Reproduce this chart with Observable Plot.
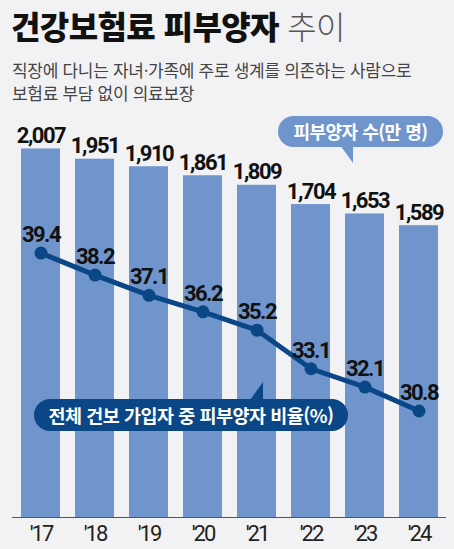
<!DOCTYPE html>
<html lang="ko">
<head>
<meta charset="utf-8">
<script src="https://cdn.jsdelivr.net/npm/d3@7"></script>
<script src="https://cdn.jsdelivr.net/npm/@observablehq/plot@0.6"></script>
<style>
  body { margin: 0; background: #f2f2f4; font-family: "Noto Sans CJK KR", "Noto Sans", sans-serif; }
  #wrap { position: relative; width: 454px; height: 549px; overflow: hidden; }
  #title { position: absolute; left: 11px; top: 4px; font-size: 32px; line-height: 42px; font-weight: 900; letter-spacing: -0.6px; color: #111; white-space: nowrap; }
  #title span { font-weight: 300; color: #555; }
  #sub { position: absolute; left: 12px; top: 58px; font-size: 17px; line-height: 23px; letter-spacing: -0.3px; color: #444; white-space: nowrap; }
  #chart { position: absolute; left: 0; top: 108px; }
  .pill { position: absolute; color: #fff; font-weight: 700; text-align: center; white-space: nowrap; letter-spacing: -0.5px; }
  .tail { position: absolute; }
  .num { letter-spacing: -1.5px; }
  .tick { letter-spacing: -2px; }
</style>
</head>
<body>
<div id="wrap">
  <div id="title">건강보험료 피부양자 <span>추이</span></div>
  <div id="sub">직장에 다니는 자녀·가족에 주로 생계를 의존하는 사람으로<br>보험료 부담 없이 의료보장</div>
  <div id="chart"></div>
  <div class="tail" style="left:340px;top:145px;width:13px;height:18px;background:#7095cd;clip-path:polygon(0 0,100% 0,100% 100%);"></div>
  <div class="pill" style="left:278px;top:116px;width:165px;height:31px;line-height:31px;border-radius:16px;background:#7095cd;font-size:18px;">피부양자 수(만 명)</div>
  <div class="tail" style="left:250px;top:382px;width:13px;height:18px;background:#0b4786;clip-path:polygon(100% 0,100% 100%,0 100%);"></div>
  <div class="pill" style="left:34px;top:399px;width:314px;height:32px;line-height:32px;border-radius:16px;background:#0b4786;font-size:18.5px;">전체 건보 가입자 중 피부양자 비율(%)</div>
</div>
<script>
// 연도별 피부양자 수(만 명)와 비율(%)
const years = ["'17", "'18", "'19", "'20", "'21", "'22", "'23", "'24"]
const counts = [2007, 1951, 1910, 1861, 1809, 1704, 1653, 1589]
const ratios = [39.4, 38.2, 37.1, 36.2, 35.2, 33.1, 32.1, 30.8]

const barColor = "#7095cd"
const navy = "#0b4786"

const rows = years.map((year, i) => ({ year, count: counts[i], ratio: ratios[i] }))

// 비율은 막대와 같은 y축에 올리기 위해 (비율-25)*100 으로 환산
const ratioY = d => (d.ratio - 25) * 100

let chart = Plot.plot({
  width: 454,
  height: 441,
  marginTop: 5,
  marginBottom: 32,
  marginLeft: 12,
  marginRight: 8,
  style: { background: "transparent", fontFamily: "Roboto, 'Noto Sans', sans-serif", overflow: "visible" },
  x: { domain: years, paddingInner: 0.282, paddingOuter: 0.135, label: null },
  y: { domain: [0, 2200], axis: null },
  marks: [
    Plot.barY(rows, { x: "year", y: "count", fill: barColor }),
    Plot.ruleY([0], { stroke: "#555", strokeWidth: 1 }),
    Plot.axisX({ tickSize: 0, tickPadding: 8, fontSize: 22, fill: "#222", className: "tick", label: null }),
    Plot.text(rows, {
      x: "year", y: "count", text: d => d3.format(",")(d.count),
      dy: -6, lineAnchor: "bottom", fontSize: 22, fontWeight: 700, fill: "#111", className: "num"
    }),
    Plot.line(rows, { x: "year", y: ratioY, stroke: navy, strokeWidth: 5 }),
    Plot.dot(rows, { x: "year", y: ratioY, r: 6.5, fill: navy }),
    Plot.text(rows, {
      x: "year", y: ratioY, text: d => d.ratio.toFixed(1),
      dy: -11, lineAnchor: "bottom", fontSize: 22, fontWeight: 700, fill: "#111", className: "num"
    })
  ]
})

d3.select("#chart").append(() => chart)
</script>
</body>
</html>
